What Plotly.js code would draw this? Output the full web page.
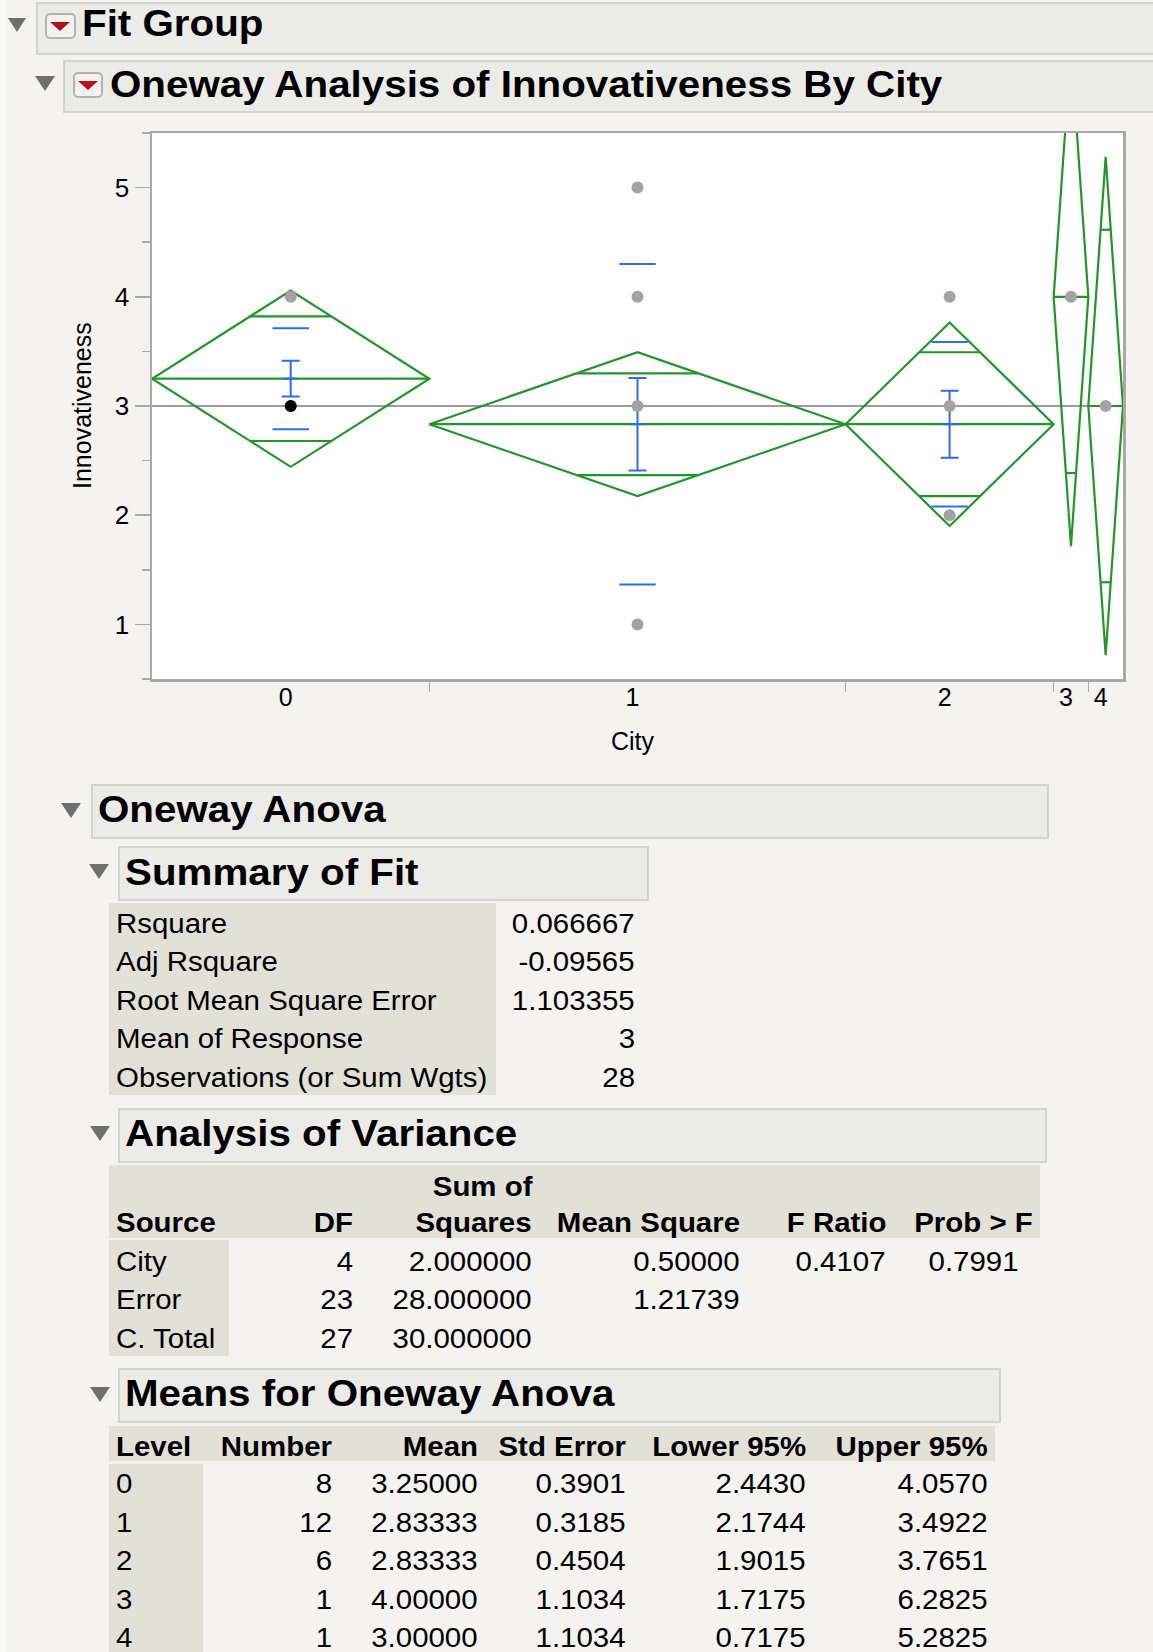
<!DOCTYPE html>
<html><head><meta charset="utf-8">
<script src="https://cdn.plot.ly/plotly-3.0.1.min.js"></script>
<style>
html,body{margin:0;padding:0;background:#f4f3ef;}
#page{position:relative;width:1153px;height:1652px;overflow:hidden;background:#f4f3ef;font-family:"Liberation Sans",Arial,Helvetica,sans-serif;color:#000;}
#chart{position:absolute;left:0;top:0;width:1153px;height:780px;z-index:0;}
.abs{position:absolute;z-index:1;box-sizing:border-box;}
.t{position:absolute;white-space:nowrap;z-index:2;}
</style></head>
<body><div id="page"><div id="chart"></div></div>
<script>
// ---------------- data ----------------
const cities = ['0','1','2','3','4'];
const counts = [8, 12, 6, 1, 1];
const means = [3.25, 2.83333, 2.83333, 4.0, 3.0];
const stdErrs = [0.3901, 0.3185, 0.4504, 1.1034, 1.1034];
const lower95 = [2.4430, 2.1744, 1.9015, 1.7175, 0.7175];
const upper95 = [4.0570, 3.4922, 3.7651, 6.2825, 5.2825];
const groupStdDev = [0.463, 1.467, 0.753, null, null];
const grandMean = 3;
const pointCity = ['0','0','1','1','1','1','2','2','2','3','4'];
const pointValue = [4, 3, 5, 4, 3, 1, 4, 3, 2, 4, 3];
const selectedCity = ['0'];
const selectedValue = [3];
const yTickVals = [1, 2, 3, 4, 5];

const summaryLabels = ['Rsquare','Adj Rsquare','Root Mean Square Error','Mean of Response','Observations (or Sum Wgts)'];
const summaryValues = ['0.066667','-0.09565','1.103355','3','28'];

const anovaSource = ['City','Error','C. Total'];
const anovaDF = ['4','23','27'];
const anovaSS = ['2.000000','28.000000','30.000000'];
const anovaMS = ['0.50000','1.21739',''];
const anovaF = ['0.4107','',''];
const anovaP = ['0.7991','',''];

// ---------------- chart ----------------
const GREEN = '#23962b', BLUE = '#2f6ce8', GRAY = '#a3a3a3', AXIS = '#a9a9a9';
const N = counts.reduce((a,b)=>a+b,0);
const lefts = [], centers = [];
let acc = 0;
counts.forEach(n => { lefts.push(acc); centers.push(acc + n/2); acc += n; });
const bounds = lefts.slice(1);

const dx = [], dy = [];
counts.forEach((n,i) => {
  const l = lefts[i], r = lefts[i] + n, c = centers[i], m = means[i];
  const hy = (upper95[i] - lower95[i]) / 2 / Math.SQRT2;
  const hx = (n/2) * (1 - 1/Math.SQRT2);
  dx.push(l, c, r, c, l, null, l, r, null, c-hx, c+hx, null, c-hx, c+hx, null);
  dy.push(m, upper95[i], m, lower95[i], m, null, m, m, null, m+hy, m+hy, null, m-hy, m-hy, null);
});

const sdX = [], sdY = [], ebX = [], ebY = [], ebE = [];
counts.forEach((n,i) => {
  if (groupStdDev[i] != null) {
    sdX.push(centers[i], centers[i]);
    sdY.push(means[i] + groupStdDev[i], means[i] - groupStdDev[i]);
    ebX.push(centers[i]); ebY.push(means[i]); ebE.push(groupStdDev[i] / Math.sqrt(n));
  }
});

const px = pointCity.map(c => centers[cities.indexOf(c)]);
const sx = selectedCity.map(c => centers[cities.indexOf(c)]);

const traces = [
  {x:[0, N], y:[grandMean, grandMean], mode:'lines', line:{color:'#9c9c9c', width:2}, hoverinfo:'skip'},
  {x:dx, y:dy, mode:'lines', line:{color:GREEN, width:2.2}, connectgaps:false, hoverinfo:'skip'},
  {x:sdX, y:sdY, mode:'markers', marker:{symbol:'line-ew', size:26, color:BLUE, line:{color:BLUE, width:2}}, hoverinfo:'skip'},
  {x:ebX, y:ebY, mode:'markers', marker:{symbol:'line-ew', size:10.5, color:BLUE, line:{color:BLUE, width:2}},
   error_y:{type:'data', array:ebE, visible:true, color:BLUE, thickness:2, width:9}, hoverinfo:'skip'},
  {x:px, y:pointValue, mode:'markers', marker:{size:12, color:GRAY}, hoverinfo:'skip'},
  {x:sx, y:selectedValue, mode:'markers', marker:{size:12, color:'#000000'}, hoverinfo:'skip'}
];

const layout = {
  width:1153, height:780,
  margin:{l:152, r:30, t:133, b:101, pad:0},
  paper_bgcolor:'rgba(0,0,0,0)', plot_bgcolor:'#ffffff',
  showlegend:false,
  font:{family:'"Liberation Sans", Arial, sans-serif', color:'#000'},
  xaxis:{range:[0, N], tickmode:'array', tickvals:centers, ticktext:cities, ticks:'',
    showgrid:false, zeroline:false, showline:true, linecolor:AXIS, linewidth:2.5, mirror:true,
    tickfont:{size:25}, fixedrange:true, ticklabelshift:-5, ticklabelstandoff:-6,
    minor:{tickmode:'array', tickvals:bounds, ticks:'outside', ticklen:10, tickcolor:AXIS, tickwidth:1.5, showgrid:false}},
  yaxis:{range:[0.5, 5.5], tickmode:'array', tickvals:yTickVals, ticktext:yTickVals.map(String), ticks:'outside', ticklen:15,
    tickwidth:1.5, tickcolor:AXIS, showgrid:false, zeroline:false, showline:true, linecolor:AXIS,
    linewidth:2.5, mirror:true, tickfont:{size:26}, fixedrange:true,
    minor:{tickmode:'linear', tick0:0.5, dtick:0.5, ticks:'outside', ticklen:8, tickcolor:AXIS, tickwidth:1.5, showgrid:false}},
  annotations:[
    {text:'Innovativeness', xref:'paper', yref:'paper', x:0, y:0.5, xanchor:'center', yanchor:'middle',
     xshift:-70, textangle:-90, showarrow:false, font:{size:25}},
    {text:'City', xref:'paper', yref:'paper', x:0.5, y:0, xanchor:'center', yanchor:'middle',
     yshift:-62, xshift:-5, showarrow:false, font:{size:25}}
  ]
};
Plotly.newPlot('chart', traces, layout, {staticPlot:true, displayModeBar:false});

// ---------------- report (text) ----------------
const page = document.getElementById('page');
function box(x, y, w, h, style){
  const d = document.createElement('div'); d.className = 'abs';
  Object.assign(d.style, {left:x+'px', top:y+'px', width:w+'px', height:h+'px'}, style || {});
  page.appendChild(d); return d;
}
function text(s, x, cy, o){
  const size = o.size, lh = Math.round(size*(o.lh || 1.3));
  const d = document.createElement('div'); d.className = 't'; d.textContent = s;
  d.style.fontSize = size+'px'; d.style.lineHeight = lh+'px'; d.style.top = (cy - lh/2)+'px';
  d.style.fontWeight = o.bold ? 'bold' : 'normal';
  if (o.align === 'right'){ d.style.right = (1153 - x)+'px'; d.style.transformOrigin = 'right center'; }
  else { d.style.left = x+'px'; d.style.transformOrigin = 'left center'; }
  if (o.sx && o.sx !== 1) d.style.transform = 'scaleX('+o.sx+')';
  page.appendChild(d); return d;
}
function tri(x, y, w, h, color){
  return box(x, y, 0, 0, {borderLeft:(w/2)+'px solid transparent', borderRight:(w/2)+'px solid transparent',
    borderTop:h+'px solid '+color, width:'0px', height:'0px'});
}
const HS = {size:37, bold:true, sx:1.09};
function header(label, bx, by, br, bb, t, tx, tcy, btn){
  box(bx, by, br-bx, bb-by, {background:'#ebebe7', border:'2px solid #d3d3ce'});
  tri(t[0], t[1], t[2], t[3], '#6f6f6f');
  if (btn){
    box(btn[0], btn[1], btn[2], btn[3], {background:'#f1f1f0', border:'2px solid #b3b3b3', borderRadius:'5px'});
    tri(btn[0]+5, btn[1]+9, btn[2]-10, 9, '#b3121c');
  }
  text(label, tx, tcy, HS);
}
box(0, 0, 6, 1652, {background:'#fafaf8'});
header('Fit Group', 36, 2, 1170, 55, [8,18,19,14], 82, 24, [45,13,31,26]);
header('Oneway Analysis of Innovativeness By City', 63, 60, 1170, 113, [35,76,20,15], 110, 84.5, [73,72,30,26]);
header('Oneway Anova', 91, 784, 1049, 839, [61,803,20,15], 98, 810);
header('Summary of Fit', 118, 846, 649, 901, [89,864,20,15], 125, 872.5);
header('Analysis of Variance', 118, 1108, 1047, 1163, [90,1126,20,15], 125, 1134);
header('Means for Oneway Anova', 118, 1368, 1001, 1423, [90,1387,20,15], 125, 1394);

const TBG = '#e2e1d7';
const TS = {size:27, sx:1.09, lh:1.0};
const TB = {size:27, sx:1.09, bold:true, lh:1.0};
const RH = 38.6;
function R(o){ return Object.assign({align:'right'}, o); }

// Summary of Fit
box(109, 903, 387, 192, {background:TBG});
summaryLabels.forEach((s,i) => {
  text(s, 116, 924 + i*RH, TS);
  text(summaryValues[i], 635, 924 + i*RH, R(TS));
});

// Analysis of Variance
box(109, 1165, 931, 73, {background:TBG});
box(109, 1240, 120, 116, {background:TBG});
text('Sum of', 532, 1187, R(TB));
text('Source', 116, 1223, TB);
text('DF', 353, 1223, R(TB));
text('Squares', 532, 1223, R(TB));
text('Mean Square', 740, 1223, R(TB));
text('F Ratio', 886, 1223, R(TB));
text('Prob > F', 1033, 1223, R(TB));
anovaSource.forEach((s,i) => {
  const cy = 1262 + i*RH;
  text(s, 116, cy, TS);
  text(anovaDF[i], 353, cy, R(TS));
  text(anovaSS[i], 532, cy, R(TS));
  if (anovaMS[i]) text(anovaMS[i], 740, cy, R(TS));
  if (anovaF[i]) text(anovaF[i], 886, cy, R(TS));
  if (anovaP[i]) text(anovaP[i], 1019, cy, R(TS));
});

// Means for Oneway Anova
box(109, 1426, 886, 35, {background:TBG});
box(109, 1464, 94, 200, {background:TBG});
text('Level', 116, 1447, TB);
text('Number', 332, 1447, R(TB));
text('Mean', 478, 1447, R(TB));
text('Std Error', 626, 1447, R(TB));
text('Lower 95%', 806, 1447, R(TB));
text('Upper 95%', 988, 1447, R(TB));
cities.forEach((c,i) => {
  const cy = 1484.5 + i*RH;
  text(c, 116, cy, TS);
  text(String(counts[i]), 332, cy, R(TS));
  text(means[i].toFixed(5), 478, cy, R(TS));
  text(stdErrs[i].toFixed(4), 626, cy, R(TS));
  text(lower95[i].toFixed(4), 806, cy, R(TS));
  text(upper95[i].toFixed(4), 988, cy, R(TS));
});
</script></body></html>
